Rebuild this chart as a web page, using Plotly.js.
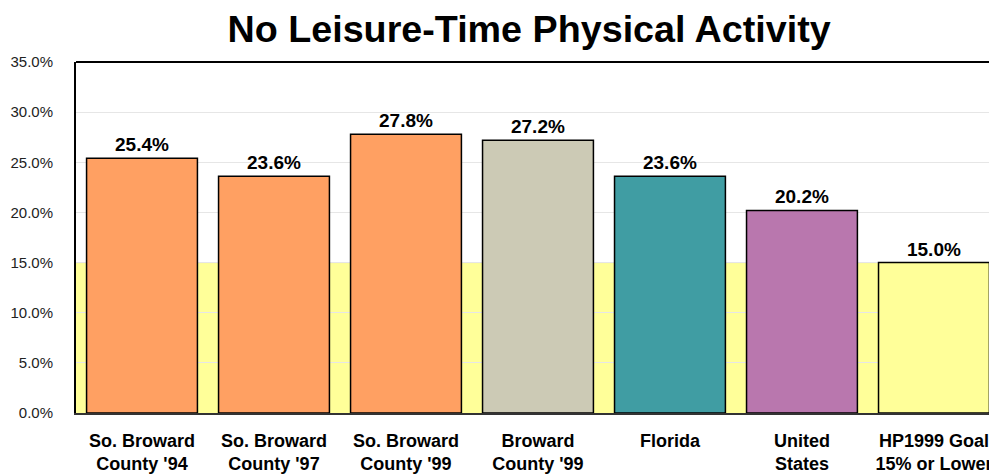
<!DOCTYPE html>
<html>
<head>
<meta charset="utf-8">
<script src="https://cdn.plot.ly/plotly-3.0.1.min.js"></script>
<style>html,body{margin:0;padding:0;background:#fff;overflow:hidden;}#chart{width:989px;height:475px;}</style>
</head>
<body>
<div id="chart"></div>
<script>
const categories = ["So. Broward<br>County '94", "So. Broward<br>County '97", "So. Broward<br>County '99", "Broward<br>County '99", "Florida", "United<br>States", "HP1999 Goal<br>15% or Lower"];
const values = [25.4, 23.6, 27.8, 27.2, 23.6, 20.2, 15.0];
const barColors = ["#FFA062", "#FFA062", "#FFA062", "#CCCAB5", "#409DA3", "#B977AE", "#FFFF99"];
const goalValue = 15.0;
const yTicks = [0, 5, 10, 15, 20, 25, 30, 35];

const sans = "'Liberation Sans', Arial, sans-serif";

const trace = {
  type: "bar",
  x: categories,
  y: values,
  marker: {color: barColors, line: {color: "#000", width: 1.5}},
  text: values.map(v => v.toFixed(1) + "%"),
  textposition: "outside",
  textfont: {family: sans, size: 19, color: "#000", weight: "bold"},
  cliponaxis: false,
  hoverinfo: "skip"
};

const layout = {
  width: 989, height: 475,
  margin: {l: 76, r: 0, t: 62, b: 62},
  paper_bgcolor: "#fff", plot_bgcolor: "#fff",
  showlegend: false,
  bargap: 0.16,
  title: {text: "<b>No Leisure-Time Physical Activity</b>", font: {family: sans, size: 37.7, color: "#000"}, x: 0.535, xanchor: "center", y: 0.94, yanchor: "middle", xref: "container", yref: "container"},
  xaxis: {
    range: [-0.5, 6.417],
    showgrid: false,
    showline: true, linecolor: "#333", linewidth: 2,
    ticks: "",
    ticklabelstandoff: 10,
    tickfont: {family: sans, size: 18, color: "#000", weight: "bold"}
  },
  yaxis: {
    range: [0, 35],
    tickvals: yTicks,
    ticktext: yTicks.map(v => v.toFixed(1) + "%"),
    showgrid: true, gridcolor: "#E6E6E6", gridwidth: 1,
    zeroline: false,
    showline: true, linecolor: "#000", linewidth: 2,
    ticks: "",
    ticklabelstandoff: 18,
    tickfont: {family: sans, size: 15, color: "#222"}
  },
  shapes: [
    {type: "rect", xref: "paper", yref: "y", x0: 0, x1: 1, y0: 0, y1: goalValue, fillcolor: "#FFFF99", line: {width: 0}, layer: "below"},
    {type: "line", xref: "paper", yref: "y", x0: 0, x1: 1, y0: goalValue, y1: goalValue, line: {color: "#C8C8C8", width: 1}, layer: "below"},
    {type: "line", xref: "paper", yref: "paper", x0: 0, x1: 1, y0: 1, y1: 1, line: {color: "#000", width: 2}, layer: "above"}
  ]
};

Plotly.newPlot("chart", [trace], layout, {displayModeBar: false, staticPlot: true});
</script>
</body>
</html>
